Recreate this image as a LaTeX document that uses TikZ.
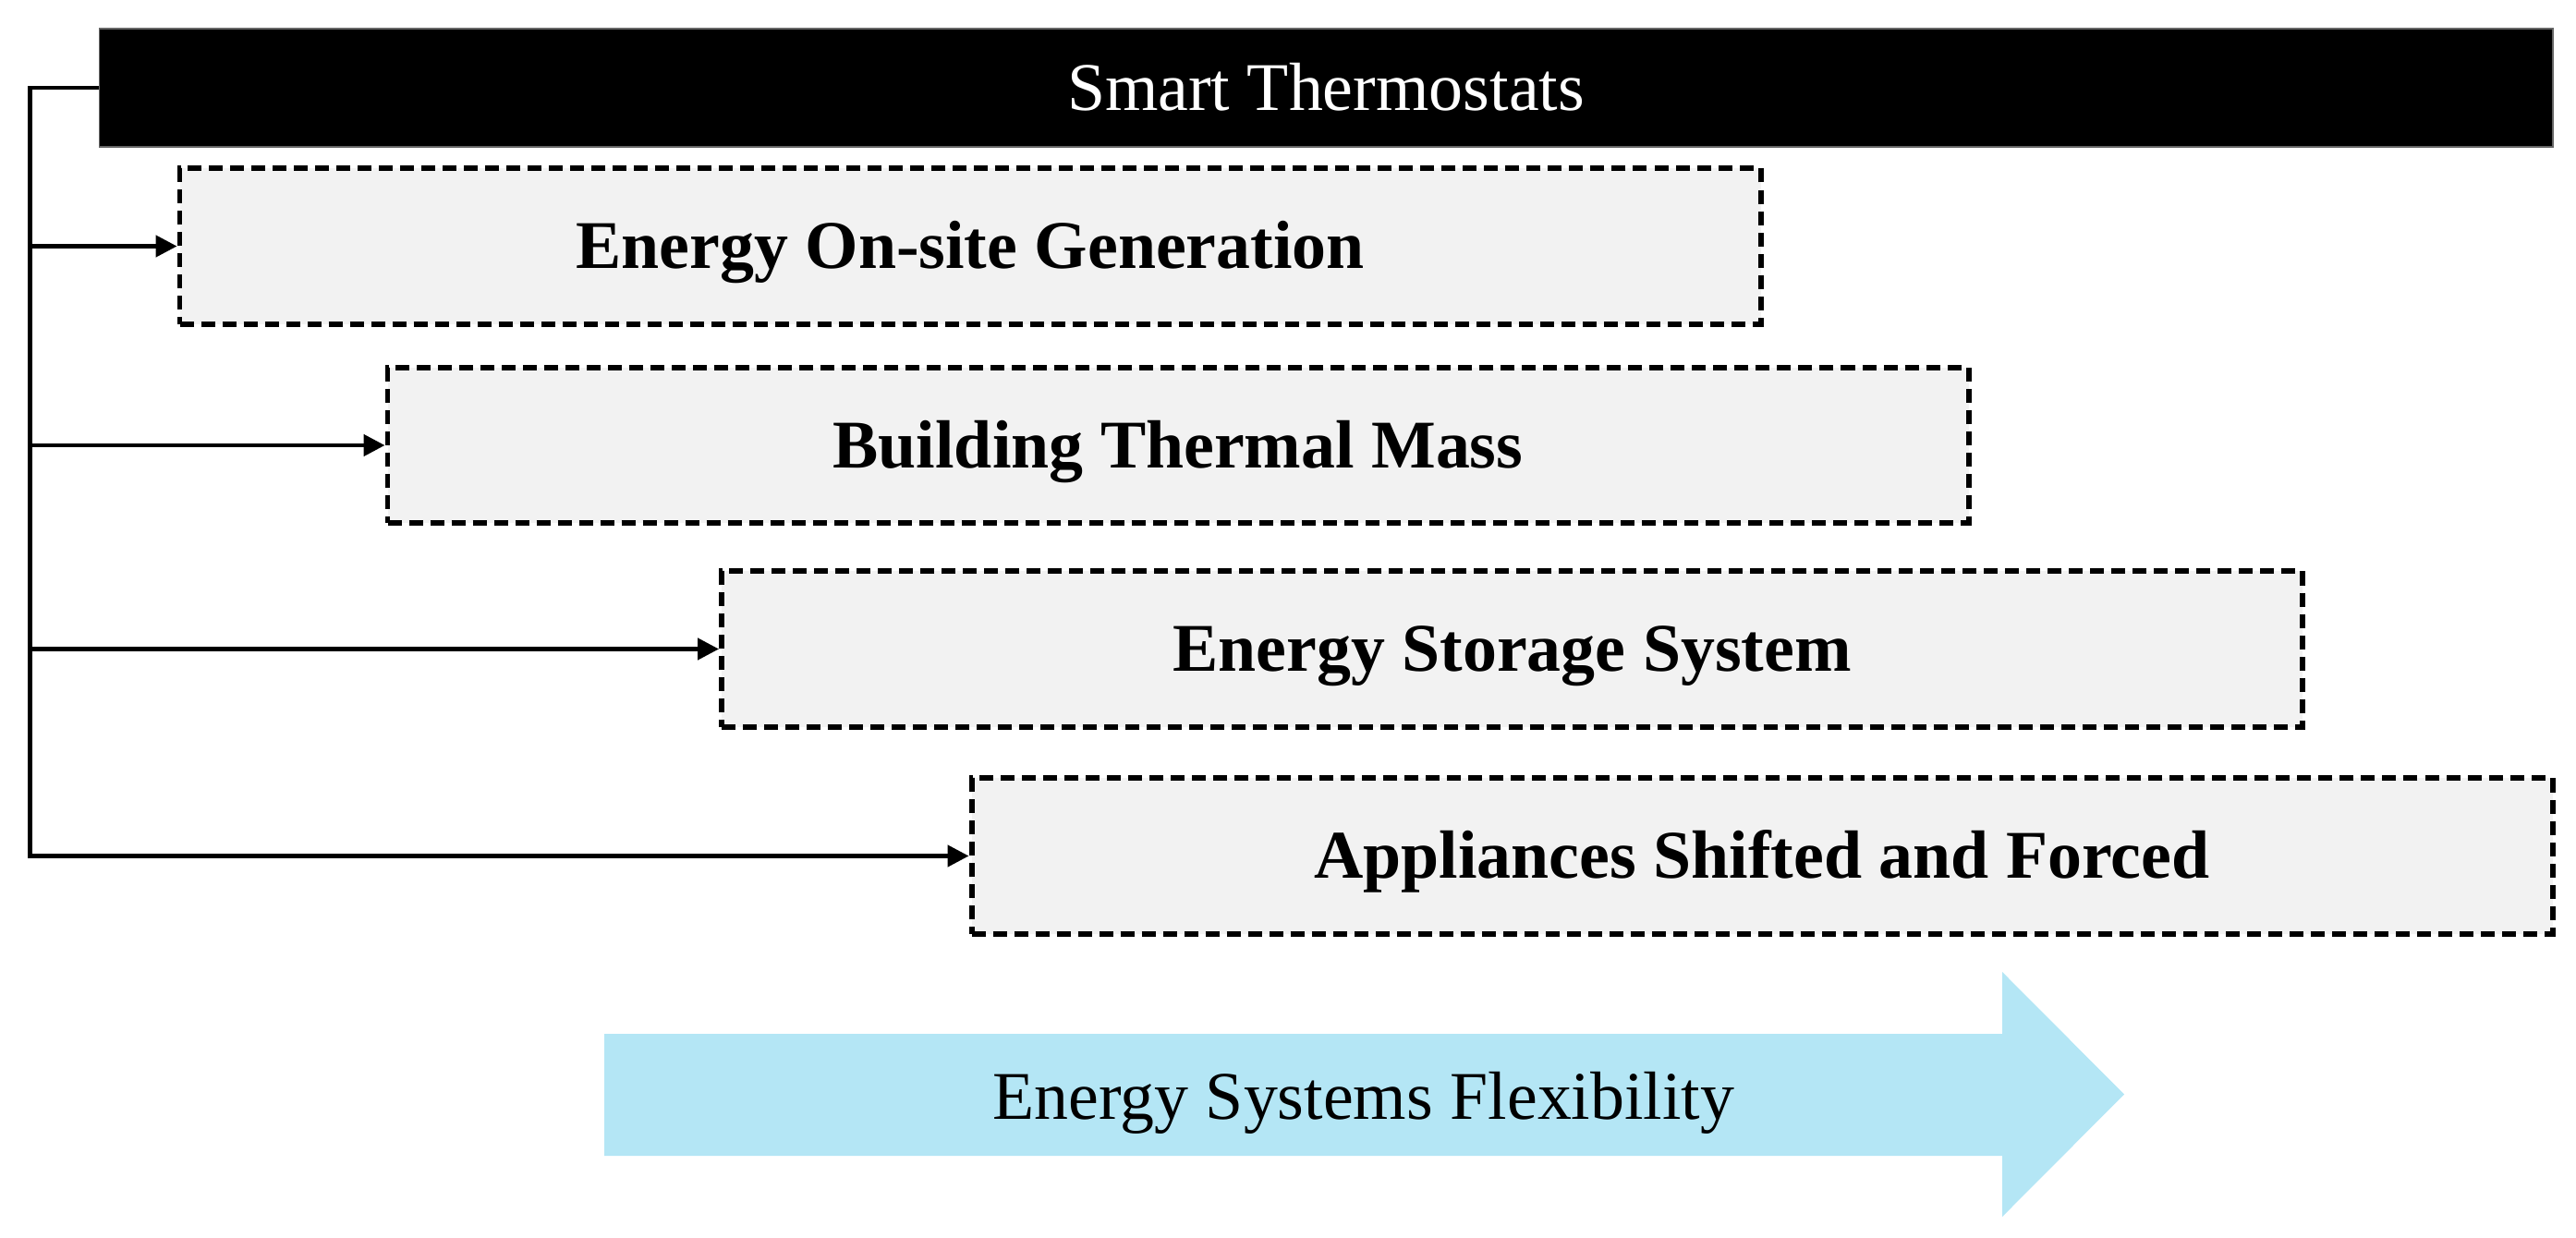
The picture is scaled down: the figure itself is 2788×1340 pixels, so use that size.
\documentclass[tikz,border=0pt]{standalone}
\usepackage{fontspec}
\setmainfont{Liberation Serif}
\usetikzlibrary{arrows.meta}
\definecolor{boxfill}{RGB}{242,242,242}
\definecolor{flexblue}{RGB}{180,230,245}
\tikzset{
  captext/.style={text height=13.9pt, text depth=0pt},
  lvlbox/.style={draw=black, fill=boxfill, line width=1.7pt,
    dash pattern=on 0.15cm off 0.08cm, minimum width=17.1cm, minimum height=1.68cm,
    inner sep=0pt, captext, font=\fontsize{21}{25}\selectfont\bfseries},
  topbar/.style={fill=black, draw=black!60, line width=0.4pt, minimum width=26.54cm,
    minimum height=1.28cm, inner sep=0pt, captext, text=white, font=\fontsize{21}{25}\selectfont},
  conn/.style={line width=1.3pt, draw=black},
  tip/.style={-{Triangle[length=0.23cm, width=0.23cm]}}
}
\begin{document}
\begin{tikzpicture}[x=0.01cm, y=-0.01cm]
\useasboundingbox (0,0) rectangle (2788,1340);
\node[topbar] (bar) at (1435,95) {Smart Thermostats};
\node[lvlbox] (b1) at (1050,266.5) {Energy On-site Generation};
\node[lvlbox] (b2) at (1275,482) {Building Thermal Mass};
\node[lvlbox] (b3) at (1636.5,702.5) {Energy Storage System};
\node[lvlbox] (b4) at (1907,926.5) {Appliances Shifted and Forced};
\coordinate (sp) at (32.5,95);
\draw[conn, tip] (bar.west) -- (sp) |- (b4.west);
\draw[conn, tip] (sp |- b1.west) -- (b1.west);
\draw[conn, tip] (sp |- b2.west) -- (b2.west);
\draw[conn, tip] (sp |- b3.west) -- (b3.west);
\fill[flexblue] (654,1119) -- (2167,1119) -- (2167,1052) -- (2299,1184.5)
  -- (2167,1317) -- (2167,1251) -- (654,1251) -- cycle;
\node[font=\fontsize{21}{25}\selectfont, inner sep=0pt, captext] (flex) at (1476,1187) {Energy Systems Flexibility};
\end{tikzpicture}
\end{document}
